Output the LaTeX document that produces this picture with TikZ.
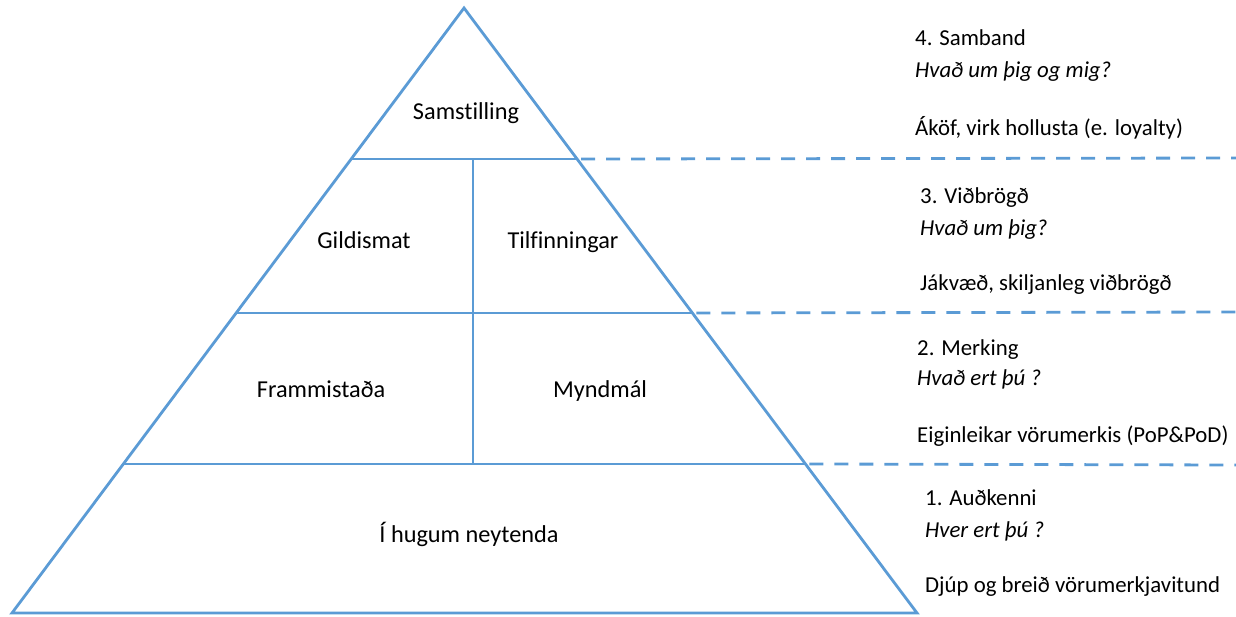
\documentclass[tikz,border=0pt]{standalone}
\usepackage{fontspec}
\setmainfont[Ligatures=NoCommon]{Carlito}
\usetikzlibrary{calc}
\definecolor{pyrblue}{RGB}{91,155,213}
\begin{document}
\begin{tikzpicture}[x=1pt,y=-1pt,
  pyr/.style={draw=pyrblue,line width=2.8pt,line join=miter},
  dashln/.style={draw=pyrblue,line width=2.8pt,dash pattern=on 14pt off 11pt},
  lbl/.style={inner sep=0pt,font=\fontsize{24.3}{28}\selectfont,anchor=base},
  rt/.style={inner sep=0pt,font=\fontsize{22.8}{28}\selectfont,anchor=base west},
  rti/.style={rt,font=\fontsize{22.8}{28}\selectfont\itshape}]
\useasboundingbox (0,0) rectangle (1236,616);
\coordinate (apex) at (464,8);
\coordinate (bl) at (12,613);
\coordinate (br) at (917,613);
% level lines
\coordinate (l4) at ($(apex)!0.2496!(bl)$);
\coordinate (r4) at ($(apex)!0.2496!(br)$);
\coordinate (l3) at ($(apex)!0.5041!(bl)$);
\coordinate (r3) at ($(apex)!0.5041!(br)$);
\coordinate (l2) at ($(apex)!0.7537!(bl)$);
\coordinate (r2) at ($(apex)!0.7537!(br)$);
\coordinate (d4) at (1236,158);
\coordinate (d3) at (1236,312);
\coordinate (d2) at (1236,465);
\coordinate (vt) at (473,158);
\coordinate (vb) at (473,463);
\draw[pyr] (apex) -- (bl) -- (br) -- cycle;
\draw[pyr] (l4) -- (r4);
\draw[pyr] (l3) -- (r3);
\draw[pyr] (l2) -- (r2);
\draw[pyr] (vt) -- (vb);
\draw[dashln] (r4) ++(4,0) -- (d4);
\draw[dashln] (r3) ++(4,0) -- (d3);
\draw[dashln] (r2) ++(4,0) -- (d2);
% pyramid labels
\node[lbl] (samst) at (466,119) {Samstilling};
\node[lbl] (gild) at (364,248) {Gildismat};
\node[lbl] (tilf) at (563,248) {Tilfinningar};
\node[lbl] (framm) at (321,397) {Frammistaða};
\node[lbl] (mynd) at (600,397) {Myndmál};
\node[lbl] (hugum) at (469,542) {Í hugum neytenda};
% right texts
\node[rt] (t4) at (915,45) {4. Samband};
\node[rti] (q4) at (915,77) {Hvað um þig og mig?};
\node[rt] (d4t) at (915,135) {Áköf, virk hollusta (e. loyalty)};
\node[rt] (t3) at (920,203) {3. Viðbrögð};
\node[rti] (q3) at (920,235) {Hvað um þig?};
\node[rt] (d3t) at (920,290) {Jákvæð, skiljanleg viðbrögð};
\node[rt] (t2) at (917,355) {2. Merking};
\node[rti] (q2) at (917,385) {Hvað ert þú ?};
\node[rt] (d2t) at (917,442) {Eiginleikar vörumerkis (PoP\&PoD)};
\node[rt] (t1) at (925,505) {1. Auðkenni};
\node[rti] (q1) at (925,537) {Hver ert þú ?};
\node[rt] (d1t) at (925,592) {Djúp og breið vörumerkjavitund};
\end{tikzpicture}
\end{document}
